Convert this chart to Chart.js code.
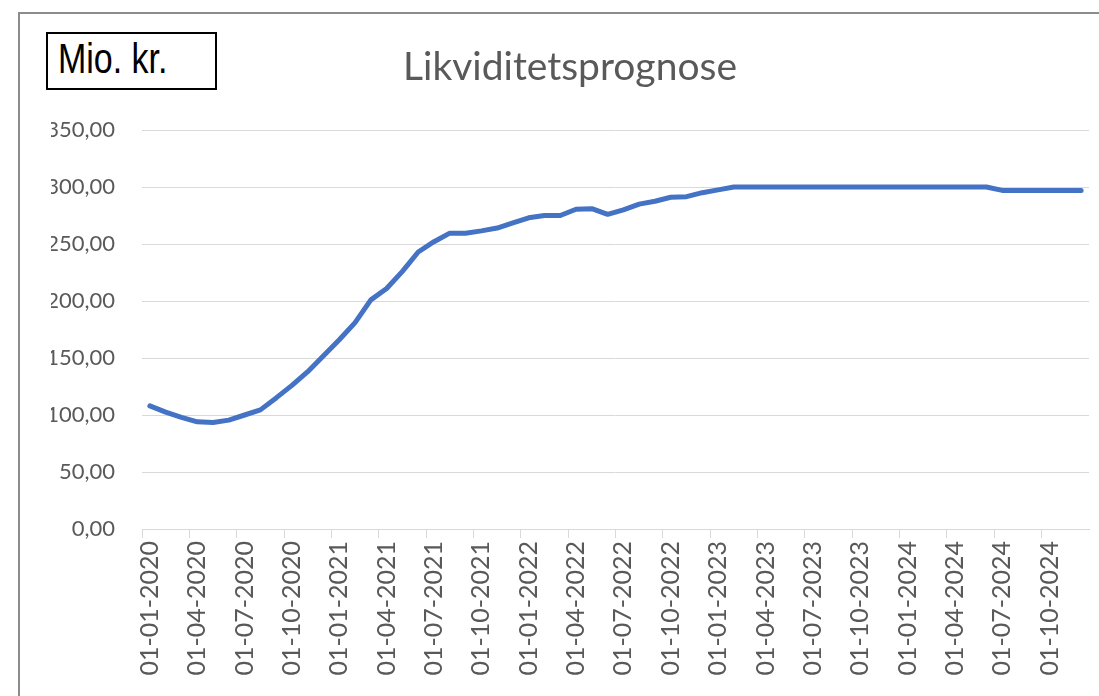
<!DOCTYPE html>
<html>
<head>
<meta charset="utf-8">
<script src="https://cdn.jsdelivr.net/npm/chart.js@4/dist/chart.umd.min.js"></script>
<style>
  html, body { margin: 0; padding: 0; background: #ffffff; overflow: hidden; }
  #frame { position: absolute; left: 18px; top: 12px; width: 1200px; height: 800px;
           border-left: 2px solid #8c8c8c; border-top: 2px solid #8c8c8c; box-sizing: border-box; }
  #wrap { position: absolute; left: 0; top: 0; width: 1099px; height: 696px; }
  #unit { position: absolute; left: 46px; top: 32px; width: 171px; height: 58px;
          border: 2px solid #000; box-sizing: border-box; background: #fff; overflow: hidden; }
  #unit span { position: absolute; left: 10px; top: 0px; font-family: "Liberation Sans", Arial, sans-serif;
               font-size: 43px; color: #000; white-space: nowrap; transform: scaleX(0.79); transform-origin: 0 0; }
</style>
</head>
<body>
<div id="frame"></div>
<div id="wrap"><canvas id="c" width="1099" height="696"></canvas></div>
<div id="unit"><span>Mio. kr.</span></div>
<script>
const chartTitle = "Likviditetsprognose";
const unitLabel = "Mio. kr.";
const categories = [
  "01-01-2020","01-02-2020","01-03-2020","01-04-2020","01-05-2020","01-06-2020",
  "01-07-2020","01-08-2020","01-09-2020","01-10-2020","01-11-2020","01-12-2020",
  "01-01-2021","01-02-2021","01-03-2021","01-04-2021","01-05-2021","01-06-2021",
  "01-07-2021","01-08-2021","01-09-2021","01-10-2021","01-11-2021","01-12-2021",
  "01-01-2022","01-02-2022","01-03-2022","01-04-2022","01-05-2022","01-06-2022",
  "01-07-2022","01-08-2022","01-09-2022","01-10-2022","01-11-2022","01-12-2022",
  "01-01-2023","01-02-2023","01-03-2023","01-04-2023","01-05-2023","01-06-2023",
  "01-07-2023","01-08-2023","01-09-2023","01-10-2023","01-11-2023","01-12-2023",
  "01-01-2024","01-02-2024","01-03-2024","01-04-2024","01-05-2024","01-06-2024",
  "01-07-2024","01-08-2024","01-09-2024","01-10-2024","01-11-2024","01-12-2024"
];
const liquidity = [
  108, 102.5, 98, 94, 93.5, 95.5, 100, 104.5, 115, 126, 138, 152,
  166, 181, 201, 211, 226, 243, 252, 259.5, 259.5, 261.5, 264, 268.5,
  273, 275, 275, 280.5, 281, 276, 280, 285, 287.5, 291, 291.5, 295,
  297.5, 300, 300, 300, 300, 300, 300, 300, 300, 300, 300, 300,
  300, 300, 300, 300, 300, 300, 297, 297, 297, 297, 297, 297
];
const yTicks = [0, 50, 100, 150, 200, 250, 300, 350];
const labelEvery = 3;

const grey = "#595959";
const gridColor = "#d9d9d9";

document.getElementById("unit").firstChild.textContent = unitLabel;

new Chart(document.getElementById("c"), {
  type: "line",
  data: {
    labels: categories,
    datasets: [{
      label: "Likviditet",
      data: liquidity,
      borderColor: "#4472C4",
      backgroundColor: "#4472C4",
      borderWidth: 5,
      pointRadius: 0,
      tension: 0,
      borderCapStyle: "round",
      borderJoinStyle: "round",
      fill: false
    }]
  },
  options: {
    responsive: false,
    animation: false,
    layout: { padding: { left: 51, right: 10, top: 0, bottom: 0 } },
    plugins: {
      legend: { display: false },
      tooltip: { enabled: false },
      title: {
        display: true,
        text: chartTitle,
        color: grey,
        font: { family: "Lato", size: 39, weight: "normal", lineHeight: 1 },
        padding: { top: 48, bottom: 43 }
      }
    },
    scales: {
      x: {
        type: "category",
        offset: true,
        grid: { display: true, offset: true, drawOnChartArea: false, drawTicks: true,
                tickLength: 9, lineWidth: 1,
                color: ctx => (ctx.index % labelEvery === 0 ? gridColor : "rgba(0,0,0,0)") },
        border: { display: true, color: gridColor, width: 1 },
        ticks: {
          autoSkip: false, minRotation: 90, maxRotation: 90, padding: 3,
          color: grey, font: { family: "Lato", size: 25 },
          callback: function(v, i) { return i % labelEvery === 0 ? this.getLabelForValue(v) : ""; }
        },
        afterFit: function(s) { s.height = 167; s.paddingLeft = 0; s.paddingRight = 0; }
      },
      y: {
        min: 0, max: 350,
        afterBuildTicks: function(s) { s.ticks = yTicks.map(v => ({ value: v })); },
        grid: { color: gridColor, lineWidth: 1, drawTicks: false },
        border: { display: false },
        ticks: {
          padding: 27, color: grey, font: { family: "Lato", size: 22 },
          callback: v => v.toFixed(2).replace(".", ",")
        },
        afterFit: function(s) { s.width = 91; }
      }
    }
  }
});
</script>
</body>
</html>
